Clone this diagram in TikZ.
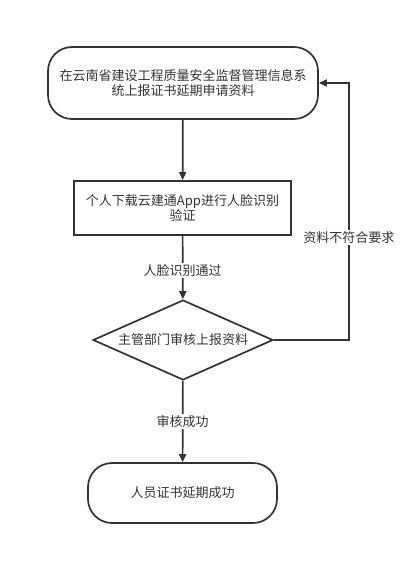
\documentclass[tikz,border=0pt]{standalone}
\usepackage{fontspec}
\setmainfont{Noto Sans CJK SC}
\usepackage{xcolor}
\usetikzlibrary{arrows.meta,shapes.geometric}
\definecolor{ink}{HTML}{333333}

\begin{document}
\begin{tikzpicture}[x={(1pt,0pt)}, y={(0pt,-1pt)}, >={Triangle[length=8pt,width=7pt]},
    every node/.style={font=\fontsize{13}{15.5}\selectfont, text=ink, align=center},
    terminal/.style={draw=ink, line width=1.7pt, rounded corners=24pt, inner sep=0pt},
    stepbox/.style={draw=ink, line width=1.7pt, inner sep=0pt},
    decision/.style={draw=ink, line width=1.7pt, diamond, aspect=2.25, inner sep=0pt,
                     minimum width=180pt, minimum height=80pt},
    lbl/.style={fill=white, inner sep=1.5pt},
    arr/.style={->, draw=ink, line width=1.7pt}]
\useasboundingbox (0,0) rectangle (410,585);
% nodes
\node[terminal, minimum width=270pt, minimum height=72pt] (apply) at (183,83)
   {在云南省建设工程质量安全监督管理信息系\\统上报证书延期申请资料};
\node[stepbox, minimum width=217pt, minimum height=54pt] (face) at (182.5,208)
   {个人下载云建通App进行人脸识别\\验证};
\node[decision] (audit) at (183,340) {主管部门审核上报资料};
\node[terminal, minimum width=189pt, minimum height=60pt] (done) at (182.5,493)
   {人员证书延期成功};
% connectors
\draw[arr] (apply) -- (face);
\draw[arr] (face) -- (audit) node[lbl, pos=0.54] {人脸识别通过};
\draw[arr] (audit) -- (done) node[lbl, pos=0.5] {审核成功};
\draw[arr] (audit.east) -- ++(75,0) |- (apply.east)
   node[lbl, pos=0.2] {资料不符合要求};
\end{tikzpicture}
\end{document}
